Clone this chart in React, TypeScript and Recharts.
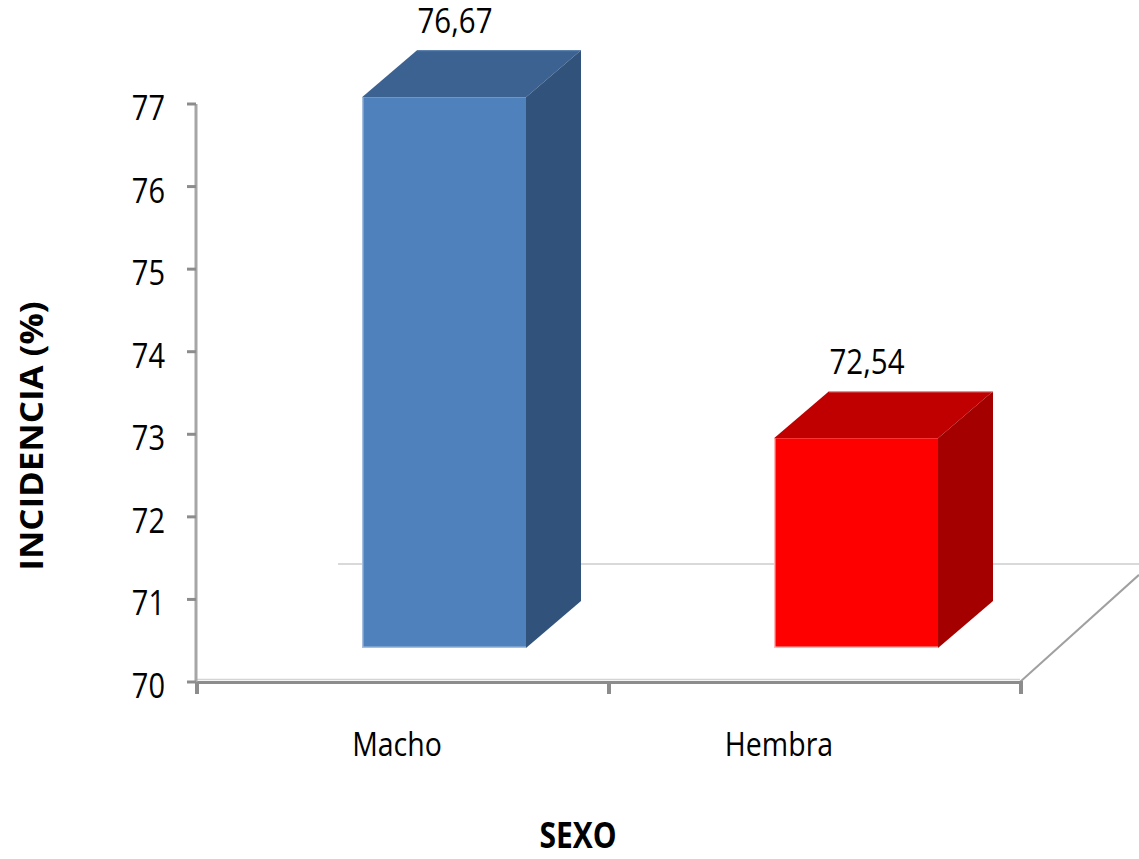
import React from 'react';
import { BarChart, Bar, XAxis, YAxis, LabelList, Customized } from 'recharts';

// Incidencia (%) por sexo
const categories = ['Macho', 'Hembra'];
const incidence = [76.67, 72.54];
const yTicks = [70, 71, 72, 73, 74, 75, 76, 77];

const data = categories.map((sexo, i) => ({ sexo, incidencia: incidence[i] }));

// Layout
const W = 1139;
const H = 859;
const PLOT_LEFT = 196;
const PLOT_RIGHT = 1020;
const PLOT_TOP = 104;
const PLOT_BOTTOM = 682;
const Y_AXIS_W = 60;
const X_AXIS_H = 60;
const BAR_W = 164;
const BAND = (PLOT_RIGHT - PLOT_LEFT) / categories.length;

// 3D look: front face offset and box depth
const FACE_DX = 42;
const FACE_DY = -34;
const DEPTH_X = 55;
const DEPTH_Y = 47;
// floor depth
const FLOOR_DX = 131;
const FLOOR_DY = 118;

const STRETCH = 1.18;
const FONT = '"Open Sans", "DejaVu Sans", sans-serif';
const LABEL_NUDGE = [-5, -35];

const palettes = [
  { front: '#4F81BD', top: '#3C6291', side: '#31527A', edge: '#A7BFDF', rim: '#5A7FAE' },
  { front: '#FF0000', top: '#C00000', side: '#A40000', edge: '#FFB8B8', rim: '#E8B0B0' },
];

const fmt = (v: number) => v.toFixed(2).replace('.', ',');

const Bar3D = (props: any) => {
  const { x, y, width, height, index } = props;
  const p = palettes[index % palettes.length];
  const fx = x + FACE_DX;
  const fy = y + FACE_DY;
  const fb = y + height + FACE_DY;
  const fr = fx + width;
  return (
    <g>
      <polygon
        points={`${fx},${fy} ${fx + DEPTH_X},${fy - DEPTH_Y} ${fr + DEPTH_X},${fy - DEPTH_Y} ${fr},${fy}`}
        fill={p.top}
      />
      <polygon
        points={`${fr},${fy} ${fr + DEPTH_X},${fy - DEPTH_Y} ${fr + DEPTH_X},${fb - DEPTH_Y} ${fr},${fb}`}
        fill={p.side}
      />
      <line x1={fx + DEPTH_X} y1={fy - DEPTH_Y + 0.5} x2={fr + DEPTH_X} y2={fy - DEPTH_Y + 0.5} stroke={p.rim} strokeWidth={1} />
      <rect x={fx} y={fy} width={width} height={fb - fy} fill={p.front} />
      <line x1={fx + 0.75} y1={fy} x2={fx + 0.75} y2={fb} stroke={p.edge} strokeWidth={1.5} />
      <line x1={fx} y1={fb - 0.75} x2={fr} y2={fb - 0.75} stroke={p.edge} strokeWidth={1.5} />
    </g>
  );
};

const ValueLabel = (props: any) => {
  const { x, y, width, value } = props;
  const cx = x + FACE_DX + width / 2 + 11;
  const base = y + FACE_DY - 64;
  return (
    <text
      transform={`translate(${cx},${base}) scale(1,${STRETCH})`}
      textAnchor="middle"
      fontSize={29.5}
      fontFamily={FONT}
      fill="#000"
    >
      {fmt(Number(value))}
    </text>
  );
};

const YTick = (props: any) => {
  const { x, y, payload } = props;
  return (
    <text
      transform={`translate(${x},${y + 16}) scale(1,${STRETCH})`}
      textAnchor="end"
      fontSize={29}
      fontFamily={FONT}
      fill="#000"
    >
      {payload.value}
    </text>
  );
};

const XTick = (props: any) => {
  const { x, payload, index } = props;
  return (
    <text
      transform={`translate(${x + (LABEL_NUDGE[index] || 0)},${PLOT_BOTTOM + 74}) scale(1,${STRETCH})`}
      textAnchor="middle"
      fontSize={28.5}
      fontFamily={FONT}
      fill="#000"
    >
      {payload.value}
    </text>
  );
};

// floor, back wall edge, category boundary ticks and axis titles
const Frame = () => {
  const backY = PLOT_BOTTOM - FLOOR_DY;
  const slope = FLOOR_DY / FLOOR_DX;
  const rightEndX = W;
  const rightEndY = PLOT_BOTTOM - (rightEndX - PLOT_RIGHT) * slope;
  return (
    <g>
      <line x1={PLOT_LEFT + 142} y1={backY} x2={W} y2={backY} stroke="#D9D9D9" strokeWidth={2} />
      <line x1={PLOT_RIGHT} y1={PLOT_BOTTOM} x2={rightEndX} y2={rightEndY} stroke="#A0A0A0" strokeWidth={2} />
      <line x1={PLOT_LEFT} y1={PLOT_BOTTOM - 2.5} x2={PLOT_RIGHT} y2={PLOT_BOTTOM - 2.5} stroke="#D4D4D4" strokeWidth={1.5} />
      <line x1={PLOT_LEFT} y1={PLOT_BOTTOM + 0.5} x2={PLOT_RIGHT} y2={PLOT_BOTTOM + 0.5} stroke="#8C8C8C" strokeWidth={3} />
      {Array.from({ length: categories.length + 1 }, (_, i) => (
        <line
          key={i}
          x1={PLOT_LEFT + i * BAND + 1}
          y1={PLOT_BOTTOM - 1}
          x2={PLOT_LEFT + i * BAND + 1}
          y2={PLOT_BOTTOM + 12}
          stroke="#8C8C8C"
          strokeWidth={4}
        />
      ))}
      <text
        transform={`translate(578,848) scale(1,${STRETCH})`}
        textAnchor="middle"
        fontSize={30}
        fontWeight="bold"
        fontFamily={FONT}
        fill="#000"
      >
        SEXO
      </text>
      <text
        transform={`translate(43,436) rotate(-90) scale(1.09,1)`}
        textAnchor="middle"
        fontSize={32}
        fontWeight="bold"
        fontFamily={FONT}
        fill="#000"
      >
        INCIDENCIA (%)
      </text>
    </g>
  );
};

export default function App() {
  return (
    <div style={{ position: 'absolute', left: 0, top: 0, width: W, height: H, background: '#fff' }}>
      <BarChart
        width={W}
        height={H}
        data={data}
        margin={{
          top: PLOT_TOP,
          right: W - PLOT_RIGHT,
          bottom: H - PLOT_BOTTOM - X_AXIS_H,
          left: PLOT_LEFT - Y_AXIS_W,
        }}
      >
        <Customized component={<Frame />} />
        <XAxis
          dataKey="sexo"
          height={X_AXIS_H}
          axisLine={false}
          tickLine={false}
          tick={<XTick />}
          interval={0}
        />
        <YAxis
          width={Y_AXIS_W}
          domain={[70, 77]}
          ticks={yTicks}
          axisLine={{ stroke: '#A6A6A6', strokeWidth: 3 }}
          tickLine={{ stroke: '#8C8C8C', strokeWidth: 3 }}
          tickSize={9}
          tickMargin={22}
          tick={<YTick />}
        />
        <Bar dataKey="incidencia" barSize={BAR_W} shape={<Bar3D />} isAnimationActive={false}>
          <LabelList dataKey="incidencia" content={<ValueLabel />} />
        </Bar>
      </BarChart>
    </div>
  );
}
